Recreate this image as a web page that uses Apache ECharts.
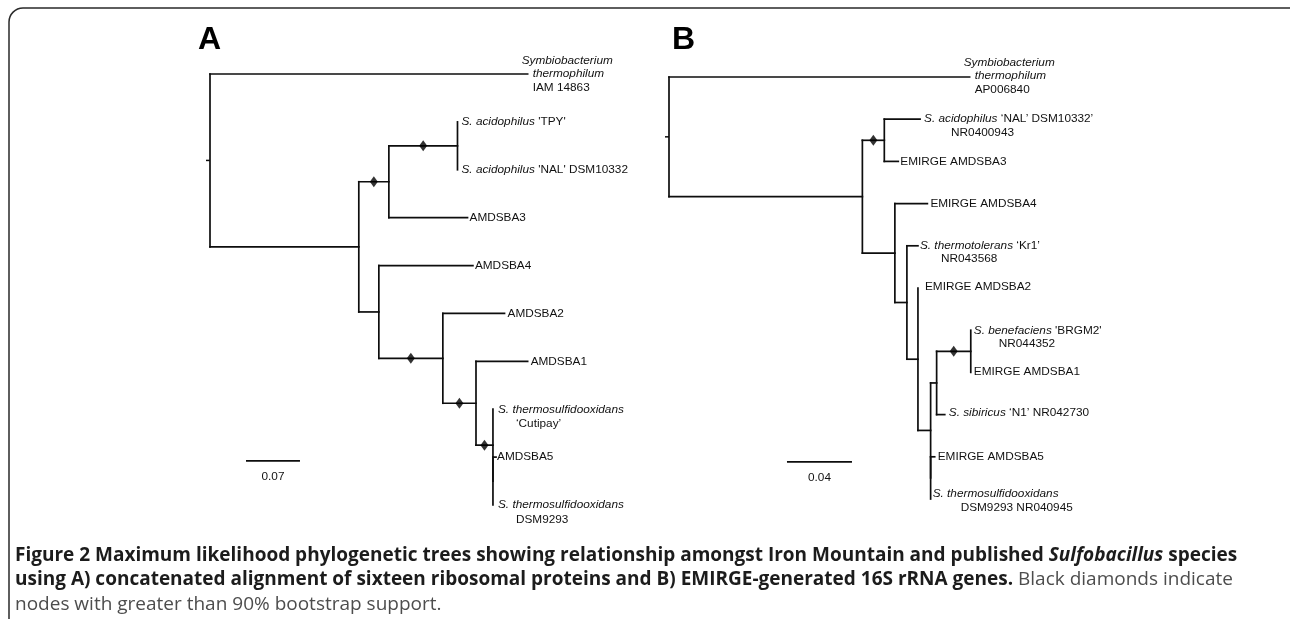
<!DOCTYPE html>
<html><head><meta charset="utf-8">
<script src="https://cdn.jsdelivr.net/npm/echarts@6/dist/echarts.min.js"></script>
<style>html,body{margin:0;padding:0;background:#fff}#c{width:1290px;height:619px}</style>
</head><body><div id="c"></div>
<script>
// ===== DATA =====
// Tree A: concatenated alignment of sixteen ribosomal proteins (branch lengths, substitutions/site)
const treeANodes    = ['rootA','symA','a1','a2','a3','tpy','nalA','amd3A','a4','amd4A','a5','amd2A','a6','amd1A','a7','cutipay','a7b','amd5A','dsmA'];
const treeAParents  = [null,'rootA','rootA','a1','a2','a3','a3','a2','a1','a4','a4','a5','a5','a6','a6','a7','a7','a7b','a7b'];
const treeALengths  = [0,0.412,0.193,0.039,0.089,0,0,0.102,0.026,0.122,0.083,0.080,0.043,0.067,0.022,0,0,0.004,0];
const treeASupported = ['a2','a3','a5','a6','a7'];   // >90% bootstrap
const treeAScale = 0.07;
const treeALabels = {
  symA:   ['{i|Symbiobacterium}','{i|thermophilum}','IAM 14863'],
  tpy:    ["{i|S. acidophilus} 'TPY'"],
  nalA:   ["{i|S. acidophilus} 'NAL' DSM10332"],
  amd3A:  ['AMDSBA3'],
  amd4A:  ['AMDSBA4'],
  amd2A:  ['AMDSBA2'],
  amd1A:  ['AMDSBA1'],
  cutipay:['{i|S. thermosulfidooxidans}','\u2018Cutipay\u2019'],
  amd5A:  ['AMDSBA5'],
  dsmA:   ['{i|S. thermosulfidooxidans}','DSM9293']
};

// Tree B: EMIRGE-generated 16S rRNA genes
const treeBNodes    = ['rootB','symB','b1','b2','nalB','amd3B','b3','amd4B','b4','kr1','b5','amd2B','b6','b7','b8','brgm2','amd1B','n1','b6b','amd5B','dsmB'];
const treeBParents  = [null,'rootB','rootB','b1','b2','b2','b1','b3','b3','b4','b4','b5','b5','b6','b7','b8','b8','b7','b6','b6b','b6b'];
const treeBLengths  = [0,0.185,0.119,0.0135,0.022,0.0086,0.020,0.020,0.0074,0.0068,0.0068,0,0.0078,0.0037,0.021,0,0,0.005,0,0.0025,0];
const treeBSupported = ['b2','b8'];
const treeBScale = 0.04;
const treeBLabels = {
  symB:  ['{i|Symbiobacterium}','{i|thermophilum}','AP006840'],
  nalB:  ["{i|S. acidophilus} \u2018NAL\u2019 DSM10332\u2019",'NR0400943'],
  amd3B: ['EMIRGE AMDSBA3'],
  amd4B: ['EMIRGE AMDSBA4'],
  kr1:   ["{i|S. thermotolerans} \u2018Kr1\u2019",'NR043568'],
  amd2B: ['EMIRGE AMDSBA2'],
  brgm2: ["{i|S. benefaciens} 'BRGM2'",'NR044352'],
  amd1B: ['EMIRGE AMDSBA1'],
  n1:    ["{i|S. sibiricus} \u2018N1\u2019 NR042730"],
  amd5B: ['EMIRGE AMDSBA5'],
  dsmB:  ['{i|S. thermosulfidooxidans}','DSM9293 NR040945']
};

const panelLetters = ['A','B'];
const captionLines = [
  '{b|Figure 2 Maximum likelihood phylogenetic trees showing relationship amongst Iron Mountain and published }{bi|Sulfobacillus}{b| species}',
  '{b|using A) concatenated alignment of sixteen ribosomal proteins and B) EMIRGE-generated 16S rRNA genes.}{r| Black diamonds indicate}',
  '{r|nodes with greater than 90% bootstrap support.}'
];

// ===== LAYOUT (pixel offsets of label lines relative to leaf tip) =====
const labelOffsetsA = {
  symA:[[-6,-13],[5,0],[5,14]], tpy:[[4,0]], nalA:[[4,0]], amd3A:[[2,0]], amd4A:[[2,0]],
  amd2A:[[3,0]], amd1A:[[3,0]], cutipay:[[5,0],[23,15]], amd5A:[[1,0]], dsmA:[[5,0],[23,15]]
};
const labelOffsetsB = {
  symB:[[-6,-14],[5,-1],[5,13]], nalB:[[4,0],[31,14]], amd3B:[[2,0]], amd4B:[[3,0]],
  kr1:[[2,0],[23,13]], amd2B:[[7,-1]], brgm2:[[3,1],[28,14]], amd1B:[[3,-1]],
  n1:[[4,-2]], amd5B:[[3,0]], dsmB:[[2,-5],[30,9]]
};
const scaleBarPosA = [0.0467, 8.08];
const scaleBarPosB = [0.0726, 9.12];

// ===== BUILD TREE GEOMETRY =====
function buildTree(nodes, parents, lengths) {
  const idx = {}; nodes.forEach((n,i)=>idx[n]=i);
  const children = nodes.map(()=>[]);
  parents.forEach((p,i)=>{ if(p!==null) children[idx[p]].push(i); });
  const x = new Array(nodes.length), y = new Array(nodes.length);
  let leafCount = 0;
  const leaves = [];
  (function walk(i, px){
    x[i] = px + lengths[i];
    if (children[i].length === 0) { y[i] = leafCount++; leaves.push(i); }
    else {
      children[i].forEach(c=>walk(c, x[i]));
      const ch = children[i];
      y[i] = (y[ch[0]] + y[ch[ch.length-1]]) / 2;
    }
  })(0, 0);
  const segs = [];
  nodes.forEach((n,i)=>{
    const p = parents[i];
    if (p !== null) segs.push([x[idx[p]], y[i], x[i], y[i]]);
    const ch = children[i];
    if (ch.length) segs.push([x[i], y[ch[0]], x[i], y[ch[ch.length-1]]]);
  });
  return {idx, x, y, parents, leaves, segs, nodes, leafCount};
}
const TA = buildTree(treeANodes, treeAParents, treeALengths);
const TB = buildTree(treeBNodes, treeBParents, treeBLengths);

function diamonds(T, supported) {
  return supported.map(n=>{
    const i = T.idx[n], p = T.idx[T.parents[i]];
    return [(T.x[p]+T.x[i])/2, T.y[i]];
  });
}
function leafItems(T) { return T.leaves.map(i=>[T.x[i], T.y[i], T.nodes[i]]); }

const LABEL_FONT = 'Liberation Sans, Arial, sans-serif';
const LABEL_SIZE = 11.8;
const LINE_COLOR = '#0d0d0d';

function branchSeries(T, gi) {
  return {
    type:'custom', xAxisIndex:gi, yAxisIndex:gi, clip:false, silent:true,
    data: T.segs.concat([[T.x[0], T.y[0], T.x[0], T.y[0]]]),
    renderItem:(params, api)=>{
      const p1 = api.coord([api.value(0), api.value(1)]);
      const p2 = api.coord([api.value(2), api.value(3)]);
      if (params.dataIndex === T.segs.length) { // root tick
        return {type:'line', shape:{x1:p1[0]-4, y1:p1[1], x2:p1[0], y2:p1[1]}, style:{stroke:LINE_COLOR, lineWidth:1.5}};
      }
      return {type:'line', shape:{x1:p1[0], y1:p1[1], x2:p2[0], y2:p2[1]},
        style:{stroke:LINE_COLOR, lineWidth:1.7, lineCap:'square'}};
    }
  };
}
function labelSeries(T, gi, labels, offsets) {
  return {
    type:'custom', xAxisIndex:gi, yAxisIndex:gi, clip:false, silent:true,
    data: leafItems(T),
    renderItem:(params, api)=>{
      const id = T.nodes[T.leaves[params.dataIndex]];
      const p = api.coord([api.value(0), api.value(1)]);
      const lines = labels[id] || [];
      const offs = offsets[id] || [];
      return {type:'group', children: lines.map((t,k)=>({
        type:'text', x:p[0]+(offs[k]?offs[k][0]:3), y:p[1]+(offs[k]?offs[k][1]:0),
        style:{text:t, fontFamily:LABEL_FONT, fontSize:LABEL_SIZE, fill:'#111',
          align:'left', verticalAlign:'middle',
          rich:{i:{fontStyle:'italic', fontFamily:LABEL_FONT, fontSize:LABEL_SIZE, fill:'#111'}}}
      }))};
    }
  };
}
function scaleSeries(gi, pos, len) {
  return {
    type:'custom', xAxisIndex:gi, yAxisIndex:gi, clip:false, silent:true,
    data:[[pos[0], pos[1], len]],
    renderItem:(params, api)=>{
      const a = api.coord([api.value(0), api.value(1)]);
      const b = api.coord([api.value(0)+api.value(2), api.value(1)]);
      return {type:'group', children:[
        {type:'line', shape:{x1:a[0], y1:a[1], x2:b[0], y2:a[1]}, style:{stroke:LINE_COLOR, lineWidth:1.7}},
        {type:'text', x:(a[0]+b[0])/2, y:a[1]+16, style:{text:String(api.value(2)), fontFamily:LABEL_FONT, fontSize:LABEL_SIZE, fill:'#111', align:'center', verticalAlign:'middle'}}
      ]};
    }
  };
}
function diamondSeries(T, gi, supported) {
  return {type:'scatter', xAxisIndex:gi, yAxisIndex:gi, silent:true, symbol:'diamond', symbolSize:[8,11],
    itemStyle:{color:'#000'}, data: diamonds(T, supported), z:5};
}

const hidden = {show:false};
const CAP = 19;
const chart = echarts.init(document.getElementById('c'), null, {renderer:'canvas'});
chart.setOption({
  animation:false,
  backgroundColor:'#fff',
  grid:[
    {left:210, top:74, width:385.5, height:431},
    {left:669, top:77, width:406.25, height:422}
  ],
  xAxis:[
    {type:'value', gridIndex:0, min:0, max:0.5, axisLine:hidden, axisTick:hidden, axisLabel:hidden, splitLine:hidden},
    {type:'value', gridIndex:1, min:0, max:0.25, axisLine:hidden, axisTick:hidden, axisLabel:hidden, splitLine:hidden}
  ],
  yAxis:[
    {type:'value', gridIndex:0, min:0, max:TA.leafCount-1, inverse:true, axisLine:hidden, axisTick:hidden, axisLabel:hidden, splitLine:hidden},
    {type:'value', gridIndex:1, min:0, max:TB.leafCount-1, inverse:true, axisLine:hidden, axisTick:hidden, axisLabel:hidden, splitLine:hidden}
  ],
  graphic:[
    {type:'rect', shape:{x:9, y:8, width:1300, height:640, r:14}, style:{fill:'none', stroke:'#2a2a2a', lineWidth:1.5}, silent:true},
    {type:'text', x:198, y:40, style:{text:panelLetters[0], fontFamily:'Liberation Sans, Arial, sans-serif', fontWeight:'bold', fontSize:32, fill:'#000', verticalAlign:'middle'}},
    {type:'text', x:672, y:40, style:{text:panelLetters[1], fontFamily:'Liberation Sans, Arial, sans-serif', fontWeight:'bold', fontSize:32, fill:'#000', verticalAlign:'middle'}},
    {type:'text', x:15, y:543, style:{
      text: captionLines.join('\n'), verticalAlign:'top', lineHeight:24.5,
      fontFamily:'Open Sans', fontSize:CAP, fill:'#222',
      rich:{
        b:{fontFamily:'Open Sans', fontWeight:'bold', fontSize:CAP, fill:'#1c1c1c', lineHeight:24.5},
        bi:{fontFamily:'Open Sans', fontWeight:'bold', fontStyle:'italic', fontSize:CAP, fill:'#1c1c1c', lineHeight:24.5},
        r:{fontFamily:'Open Sans', fontSize:CAP, fill:'#4d4d4d', lineHeight:24.5}
      }}}
  ],
  series:[
    branchSeries(TA,0), diamondSeries(TA,0,treeASupported), labelSeries(TA,0,treeALabels,labelOffsetsA), scaleSeries(0,scaleBarPosA,treeAScale),
    branchSeries(TB,1), diamondSeries(TB,1,treeBSupported), labelSeries(TB,1,treeBLabels,labelOffsetsB), scaleSeries(1,scaleBarPosB,treeBScale)
  ]
});
</script></body></html>
